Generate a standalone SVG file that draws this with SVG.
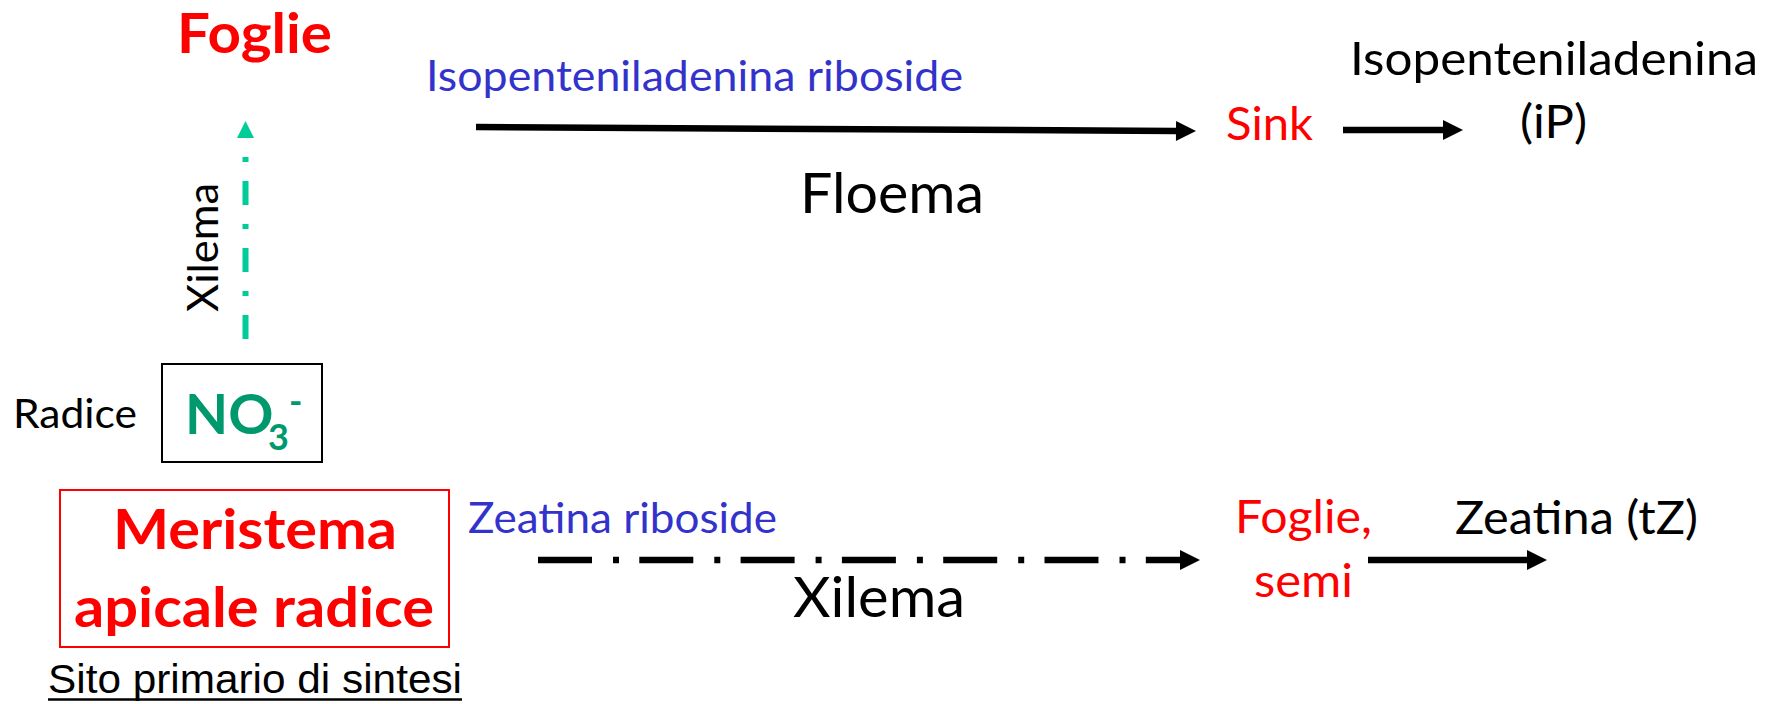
<svg xmlns="http://www.w3.org/2000/svg" width="1777" height="704" viewBox="0 0 1777 704">
  <style>
    text { font-family: Lato, "Liberation Sans", sans-serif; }
    .b { font-weight: bold; }
    .red { fill: #FF0000; }
    .blue { fill: #3333CC; }
    .black { fill: #000000; }
    .green { fill: #00996E; }
    .conn { fill: none; stroke: #000000; stroke-width: 6.5; }
  </style>
  <defs>
    <marker id="head" markerUnits="userSpaceOnUse" markerWidth="22" markerHeight="22" viewBox="0 -11 21 22" refX="0" refY="0" orient="auto">
      <path d="M0,-10 L20,0 L0,10 Z" fill="#000000"/>
    </marker>
    <marker id="headGreen" markerUnits="userSpaceOnUse" markerWidth="20" markerHeight="20" viewBox="0 -10 18 20" refX="0" refY="0" orient="auto">
      <path d="M0,-8.5 L17,0 L0,8.5 Z" fill="#00CC99"/>
    </marker>
  </defs>

  <rect width="1777" height="704" fill="#FFFFFF"/>

  <!-- connectors -->
  <g id="connectors">
    <path class="conn" d="M476,127 L1176,131" marker-end="url(#head)"/>
    <path class="conn" d="M1343,130 L1443,130" marker-end="url(#head)"/>
    <path class="conn" d="M538,560 L1180,560" stroke-dasharray="54 21 6 20.3" marker-end="url(#head)"/>
    <path class="conn" d="M1368,560 L1527,560" marker-end="url(#head)"/>
    <path d="M245.5,339 L245.5,138" fill="none" stroke="#00CC99" stroke-width="6" stroke-dasharray="24 19 5 19" marker-end="url(#headGreen)"/>
  </g>

  <!-- edge labels -->
  <g id="label-floema">
    <text class="black" x="800" y="213" font-size="55.5" textLength="184" lengthAdjust="spacingAndGlyphs">Floema</text>
  </g>
  <g id="label-xilema-bottom">
    <text class="black" x="793" y="617" font-size="55.8" textLength="172" lengthAdjust="spacingAndGlyphs">Xilema</text>
  </g>
  <g id="label-xilema-vertical">
    <text class="black" transform="translate(218,312) rotate(-90)" x="0" y="0" font-size="42.3" textLength="129" lengthAdjust="spacingAndGlyphs">Xilema</text>
  </g>
  <g id="label-ipr">
    <text class="blue" x="426" y="91" font-size="42.5" textLength="537" lengthAdjust="spacingAndGlyphs">Isopenteniladenina riboside</text>
  </g>
  <g id="label-zr">
    <text class="blue" x="468" y="533" font-size="42.3" textLength="309" lengthAdjust="spacingAndGlyphs">Zeatina riboside</text>
  </g>

  <!-- nodes -->
  <g id="node-foglie">
    <text class="red b" x="177" y="53" font-size="55" textLength="155" lengthAdjust="spacingAndGlyphs">Foglie</text>
  </g>

  <g id="node-sink">
    <text class="red" x="1226" y="140" font-size="47" textLength="87" lengthAdjust="spacingAndGlyphs">Sink</text>
  </g>

  <g id="node-ip">
    <text class="black" x="1350" y="75" font-size="47" textLength="408" lengthAdjust="spacingAndGlyphs">Isopenteniladenina</text>
    <text class="black" x="1520" y="138" font-size="47" textLength="67" lengthAdjust="spacingAndGlyphs">(iP)</text>
  </g>

  <g id="node-radice">
    <text class="black" x="13" y="428" font-size="41.5" textLength="124" lengthAdjust="spacingAndGlyphs">Radice</text>
  </g>

  <g id="node-no3">
    <rect x="162" y="364" width="160" height="98" fill="none" stroke="#000000" stroke-width="2"/>
    <text class="green b" x="185" y="434" font-size="56">NO<tspan x="268" y="450" font-size="36">3</tspan><tspan x="289" y="414" font-size="36">-</tspan></text>
  </g>

  <g id="node-meristema">
    <rect x="60" y="490" width="389" height="157" fill="none" stroke="#FF0000" stroke-width="2"/>
    <text class="red b" x="113" y="549" font-size="56" textLength="284" lengthAdjust="spacingAndGlyphs">Meristema</text>
    <text class="red b" x="74" y="627" font-size="56" textLength="360" lengthAdjust="spacingAndGlyphs">apicale radice</text>
  </g>

  <g id="node-sito">
    <text class="black" style="font-family: 'Liberation Sans', Arial, sans-serif" x="48" y="693" font-size="41" textLength="414" lengthAdjust="spacingAndGlyphs">Sito primario di sintesi</text>
    <line x1="48" y1="699.5" x2="462" y2="699.5" stroke="#000000" stroke-width="2.5"/>
  </g>

  <g id="node-foglie-semi">
    <text class="red" x="1235" y="533" font-size="46.5" textLength="137" lengthAdjust="spacingAndGlyphs">Foglie,</text>
    <text class="red" x="1254" y="597" font-size="46.5" textLength="99" lengthAdjust="spacingAndGlyphs">semi</text>
  </g>

  <g id="node-tz">
    <text class="black" x="1455" y="534" font-size="47" textLength="243" lengthAdjust="spacingAndGlyphs">Zeatina (tZ)</text>
  </g>
</svg>
